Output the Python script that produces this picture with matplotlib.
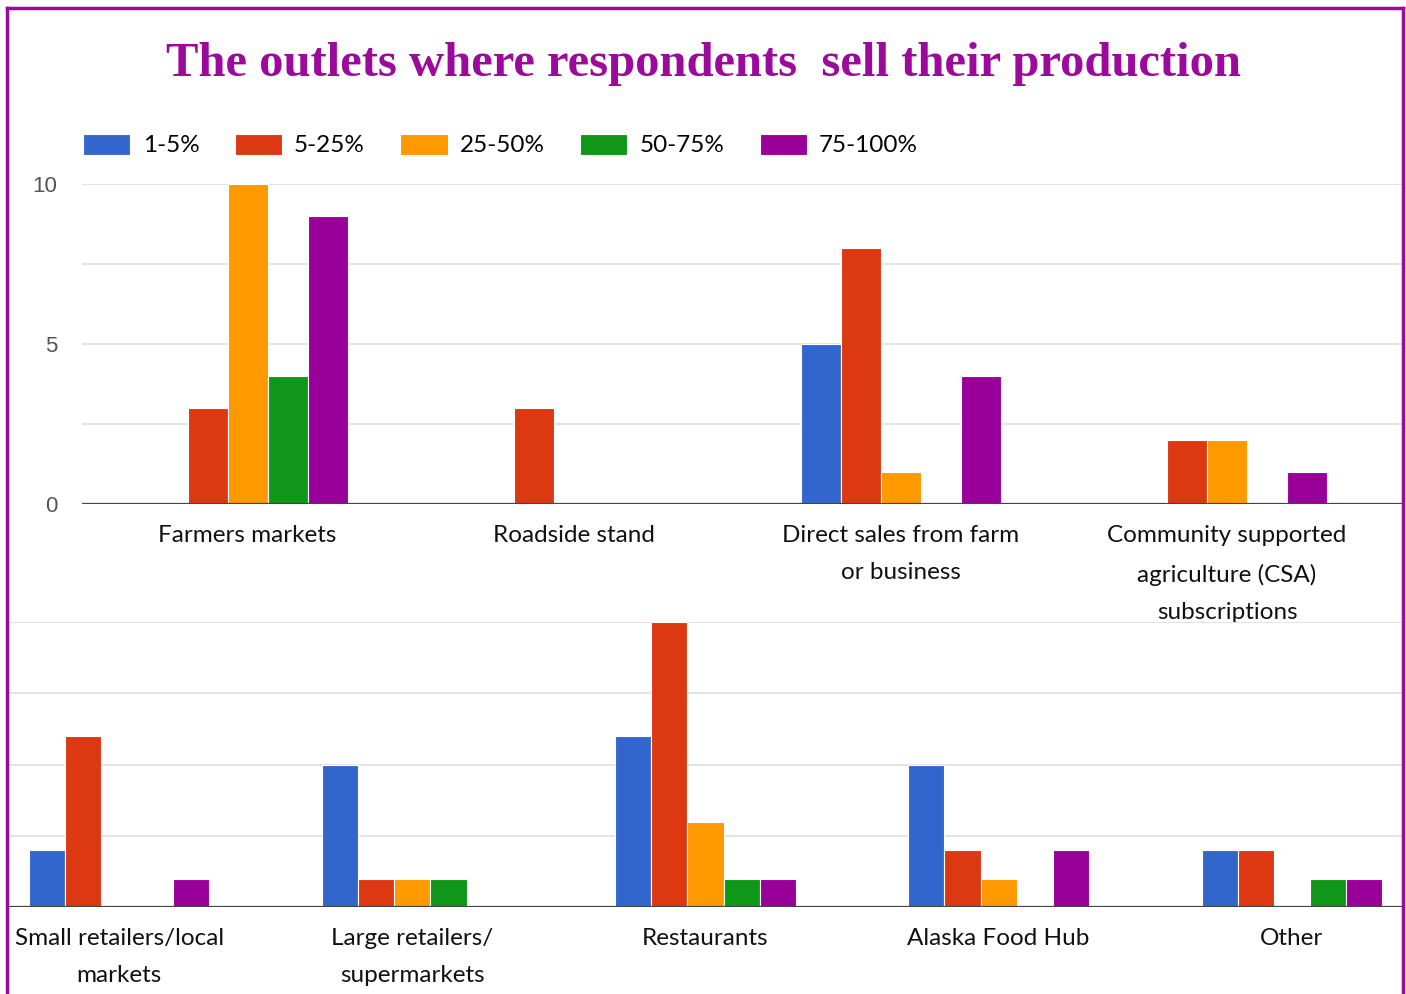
import matplotlib
matplotlib.use("Agg")
import matplotlib.pyplot as plt
import numpy as np
from matplotlib.lines import Line2D

series = ["1-5%", "5-25%", "25-50%", "50-75%", "75-100%"]
colors = ["#3366CC", "#DC3912", "#FF9900", "#109618", "#990099"]

top_categories = ["Farmers markets", "Roadside stand", "Direct sales from farm\nor business",
                  "Community supported\nagriculture (CSA)\nsubscriptions"]
top_values = {
    "1-5%":    [0, 0, 5, 0],
    "5-25%":   [3, 3, 8, 2],
    "25-50%":  [10, 0, 1, 2],
    "50-75%":  [4, 0, 0, 0],
    "75-100%": [9, 0, 4, 1],
}

bottom_categories = ["Small retailers/local\nmarkets", "Large retailers/\nsupermarkets", "Restaurants",
                     "Alaska Food Hub", "Other"]
bottom_values = {
    "1-5%":    [2, 5, 6, 5, 2],
    "5-25%":   [6, 1, 10, 2, 2],
    "25-50%":  [0, 1, 3, 1, 0],
    "50-75%":  [0, 1, 1, 0, 1],
    "75-100%": [1, 0, 1, 2, 1],
}

W, H = 1406, 994
fig = plt.figure(figsize=(W / 100, H / 100), dpi=100)
fig.patch.set_facecolor("white")

label_font = "Lato"
label_size = 17.5

def px(x0, y0, x1, y1):
    return [x0 / W, 1 - y1 / H, (x1 - x0) / W, (y1 - y0) / H]

def draw_panel(ax, cats, values, bw, xlim, show_y):
    n = len(series)
    x = np.arange(len(cats))
    handles = []
    for i, s in enumerate(series):
        offs = (i - (n - 1) / 2) * bw
        b = ax.bar(x + offs, values[s], width=bw, color=colors[i], edgecolor="white",
                   linewidth=0.8, label=s, zorder=3)
        handles.append(b)
    ax.set_xlim(*xlim)
    ax.set_ylim(0, 10)
    ax.set_yticks([0, 5, 10])
    ax.set_yticks([2.5, 7.5], minor=True)
    ax.grid(axis="y", which="both", color="#e3e3e3", linewidth=1.4, zorder=0)
    ax.axhline(0, color="#444444", linewidth=1.6, zorder=4)
    for sp in ax.spines.values():
        sp.set_visible(False)
    ax.set_xticks(x)
    ax.set_xticklabels(cats, fontfamily=label_font, fontsize=label_size, color="#111111",
                       linespacing=1.98)
    ax.tick_params(axis="x", length=0, pad=15)
    ax.tick_params(axis="y", which="both", length=0)
    if show_y:
        ax.tick_params(axis="y", pad=18)
        for t in ax.get_yticklabels():
            t.set_fontfamily("Liberation Sans")
            t.set_fontsize(16)
            t.set_color("#555555")
    else:
        ax.set_yticklabels([])
    ax.set_facecolor("none")
    return handles

ax1 = fig.add_axes(px(82, 184, 1403, 504))
handles = draw_panel(ax1, top_categories, top_values, 0.1225, (-0.507, 3.539), True)

ax2 = fig.add_axes(px(8, 622, 1403, 907))
draw_panel(ax2, bottom_categories, bottom_values, 0.123, (-0.38, 4.38), False)

fig.legend(handles=handles, labels=series, loc="center left",
           bbox_to_anchor=(83 / W, 1 - 145 / H), ncol=5, frameon=False,
           borderpad=0, borderaxespad=0, handlelength=1.95, handleheight=0.95,
           handletextpad=0.5, columnspacing=1.45,
           prop={"family": label_font, "size": label_size})

fig.text(703 / W, 1 - 64 / H, "The outlets where respondents  sell their production",
         ha="center", va="center", fontfamily="Liberation Serif", fontweight="bold",
         fontsize=35, color="#9B0A9B")

frame_col = "#9B0A9B"
fig.add_artist(Line2D([7 / W, 1403 / W], [1 - 8 / H, 1 - 8 / H], transform=fig.transFigure,
                      color=frame_col, linewidth=2.5))
fig.add_artist(Line2D([7 / W, 7 / W], [1 - 8 / H, 0], transform=fig.transFigure,
                      color=frame_col, linewidth=2.5))
fig.add_artist(Line2D([1403 / W, 1403 / W], [1 - 8 / H, 0], transform=fig.transFigure,
                      color=frame_col, linewidth=2.5))

fig.savefig("out.png", dpi=100, facecolor="white")
